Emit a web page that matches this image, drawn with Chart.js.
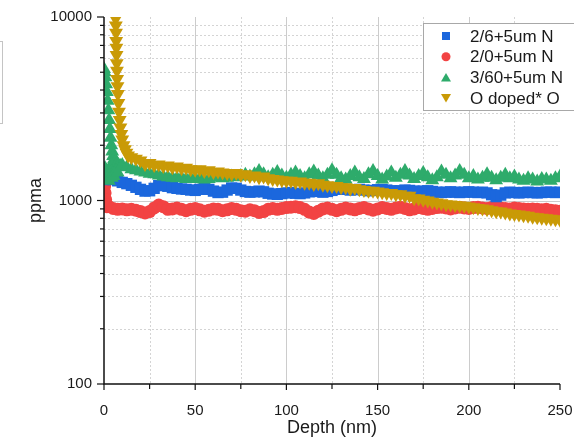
<!DOCTYPE html>
<html>
<head>
<meta charset="utf-8">
<title>Depth profile</title>
<script src="https://cdn.jsdelivr.net/npm/chart.js@4.4.0/dist/chart.umd.min.js"></script>
<style>
html, body { margin: 0; padding: 0; background: #fff; }
canvas { display: block; }
</style>
</head>
<body>
<canvas id="profile" width="574" height="443"></canvas>
<script>
// shared depth grid (nm)
const depth = [
	0, 2.5, 5, 7.5, 10, 12.5, 15, 17.5, 20, 22.5,
	25, 27.5, 30, 32.5, 35, 37.5, 40, 42.5, 45, 47.5,
	50, 52.5, 55, 57.5, 60, 62.5, 65, 67.5, 70, 72.5,
	75, 77.5, 80, 82.5, 85, 87.5, 90, 92.5, 95, 97.5,
	100, 102.5, 105, 107.5, 110, 112.5, 115, 117.5, 120, 122.5,
	125, 127.5, 130, 132.5, 135, 137.5, 140, 142.5, 145, 147.5,
	150, 152.5, 155, 157.5, 160, 162.5, 165, 167.5, 170, 172.5,
	175, 177.5, 180, 182.5, 185, 187.5, 190, 192.5, 195, 197.5,
	200, 202.5, 205, 207.5, 210, 212.5, 215, 217.5, 220, 222.5,
	225, 227.5, 230, 232.5, 235, 237.5, 240, 242.5, 245, 247.5,
	250
];

const seriesNames = ['2/6+5um N', '2/0+5um N', '3/60+5um N', 'O doped* O'];
const seriesColors = ['#1b67dd', '#f24343', '#2eab6b', '#c99a06'];

// 2/6+5um N
const blueValues = [
	1300, 1310, 1300, 1280, 1255, 1235, 1210, 1180, 1150, 1125,
	1130, 1165, 1205, 1220, 1195, 1175, 1165, 1155, 1150, 1140,
	1135, 1150, 1165, 1150, 1125, 1105, 1110, 1140, 1170, 1165,
	1140, 1120, 1110, 1115, 1125, 1115, 1095, 1085, 1080, 1090,
	1100, 1105, 1095, 1090, 1100, 1115, 1125, 1120, 1110, 1120,
	1135, 1150, 1160, 1150, 1140, 1145, 1150, 1140, 1130, 1135,
	1145, 1150, 1140, 1130, 1125, 1130, 1140, 1135, 1125, 1120,
	1125, 1130, 1120, 1110, 1105, 1110, 1115, 1110, 1105, 1110,
	1115, 1110, 1105, 1110, 1100, 1075, 1050, 1070, 1100, 1110,
	1105, 1100, 1105, 1110, 1105, 1100, 1105, 1110, 1110, 1105,
	1110
];
const blueHeadDepth = [];
const blueHeadValues = [];

// 2/0+5um N
const redValues = [
	1180, 930, 905, 895, 900, 890, 895, 885, 870, 855,
	870, 910, 945, 925, 895, 900, 910, 895, 880, 895,
	905, 890, 875, 885, 900, 895, 880, 890, 905, 895,
	880, 875, 890, 880, 860, 870, 895, 905, 895, 905,
	915, 920, 925, 915, 895, 865, 850, 875, 900, 910,
	895, 880, 895, 910, 900, 890, 905, 915, 900, 885,
	900, 915, 905, 895, 910, 920, 905, 890, 900, 915,
	905, 895, 905, 915, 920, 910, 900, 910, 920, 910,
	905, 915, 920, 910, 905, 915, 920, 910, 905, 900,
	910, 905, 900, 895, 900, 895, 890, 895, 885, 880,
	875
];
const redHeadDepth = [0, 0.3, 0.6, 0.9, 1.2, 1.6];
const redHeadValues = [1260, 1200, 1100, 1010, 950, 925];

// 3/60+5um N
const greenValues = [
	null, null, null, null, 1560, 1520, 1480, 1460, 1440, 1420,
	1400, 1390, 1370, 1350, 1340, 1330, 1320, 1330, 1310, 1320,
	1310, 1320, 1300, 1310, 1330, 1340, 1320, 1330, 1350, 1340,
	1360, 1380, 1350, 1390, 1450, 1390, 1340, 1380, 1430, 1370,
	1330, 1380, 1420, 1360, 1320, 1390, 1440, 1370, 1320, 1380,
	1460, 1380, 1320, 1300, 1360, 1420, 1340, 1310, 1390, 1450,
	1360, 1300, 1350, 1420, 1330, 1380, 1450, 1370, 1310, 1360,
	1410, 1340, 1290, 1340, 1440, 1380, 1320, 1370, 1450, 1380,
	1320, 1360, 1300, 1330, 1390, 1330, 1290, 1330, 1380, 1320,
	1350, 1300, 1280, 1320, 1300, 1270, 1310, 1300, 1280, 1320,
	1350
];
const greenHeadDepth = [
	0, 0.4, 0.8, 1.2, 1.6, 2.0, 2.4, 2.8, 3.2, 3.6, 4.0, 4.5, 5.0, 5.5, 6.0, 7.0, 8.0, 9.0,
	0.2, 0.6, 1.0, 1.4, 1.8, 2.2, 2.6, 3.0, 3.4, 3.8, 4.3, 4.8, 5.3, 6.5, 7.5
];
const greenHeadValues = [
	5200, 5000, 4700, 4300, 3900, 3500, 3100, 2750, 2450, 2200, 2000, 1850, 1750, 1680, 1620, 1580, 1560, 1540,
	1350, 1500, 1300, 1450, 1320, 1400, 1280, 1500, 1350, 1420, 1330, 1400, 1360, 1450, 1420
];

// O doped* O
const goldValues = [
	null, null, null, null, null, null, 1720, 1690, 1650, 1580,
	1600, 1560, 1570, 1540, 1550, 1520, 1530, 1500, 1510, 1480,
	1470, 1480, 1450, 1460, 1430, 1440, 1420, 1410, 1400, 1410,
	1380, 1390, 1360, 1370, 1340, 1350, 1320, 1310, 1300, 1290,
	1280, 1280, 1260, 1270, 1250, 1250, 1230, 1240, 1220, 1210,
	1200, 1200, 1180, 1180, 1160, 1170, 1150, 1140, 1130, 1130,
	1120, 1110, 1100, 1100, 1080, 1080, 1060, 1060, 1030, 1025,
	1010, 1000, 985, 975, 965, 955, 950, 945, 940, 935,
	928, 920, 910, 905, 895, 885, 875, 870, 860, 850,
	845, 840, 830, 825, 815, 810, 805, 800, 795, 790,
	785
];
const goldHeadDepth = [6.4, 6.5, 6.6, 6.7, 6.8, 6.9, 7.0, 7.1, 7.2, 7.4, 7.6, 7.9, 8.2, 8.6, 9.0, 9.5, 10.0, 10.7, 11.5, 12.3, 13.2];
const goldHeadValues = [9800, 9000, 8200, 7400, 6800, 6200, 5600, 5100, 4600, 4200, 3800, 3400, 3050, 2750, 2500, 2300, 2150, 2000, 1900, 1820, 1760];

// axis ticks
const xTicks = [0, 50, 100, 150, 200, 250];
const xMinorTicks = [25, 75, 125, 175, 225];
const yTicks = [100, 1000, 10000];
const yMinorTicks = [200, 300, 400, 500, 600, 700, 800, 900, 2000, 3000, 4000, 5000, 6000, 7000, 8000, 9000];

const FONT = '"Liberation Sans", Arial, sans-serif';

const toPoints = (headX, headY, values) => {
	let pts = headX.map((x, i) => ({ x: x, y: headY[i] }));
	values.forEach((v, i) => {
		if (v !== null) pts.push({ x: depth[i], y: v });
	});
	return pts;
};

// grid lines under the data, axes + ticks over it
const framePlugin = {
	id: 'frame',
	beforeDatasetsDraw(chart) {
		const { ctx, chartArea: a, scales: { x, y } } = chart;
		ctx.save();
		ctx.lineWidth = 1;
		ctx.strokeStyle = '#d4d4d4';
		ctx.setLineDash([2, 2]);
		xMinorTicks.forEach((v) => {
			let px = Math.round(x.getPixelForValue(v)) + 0.5;
			ctx.beginPath(); ctx.moveTo(px, a.top); ctx.lineTo(px, a.bottom); ctx.stroke();
		});
		yMinorTicks.forEach((v) => {
			let py = Math.round(y.getPixelForValue(v)) + 0.5;
			ctx.beginPath(); ctx.moveTo(a.left, py); ctx.lineTo(a.right, py); ctx.stroke();
		});
		ctx.setLineDash([]);
		ctx.strokeStyle = '#cccccc';
		xTicks.slice(1, -1).forEach((v) => {
			let px = Math.round(x.getPixelForValue(v)) + 0.5;
			ctx.beginPath(); ctx.moveTo(px, a.top); ctx.lineTo(px, a.bottom); ctx.stroke();
		});
		yTicks.slice(1, -1).forEach((v) => {
			let py = Math.round(y.getPixelForValue(v)) + 0.5;
			ctx.beginPath(); ctx.moveTo(a.left, py); ctx.lineTo(a.right, py); ctx.stroke();
		});
		ctx.restore();
	},
	afterDatasetsDraw(chart) {
		const { ctx, chartArea: a, scales: { x, y } } = chart;
		ctx.save();
		ctx.strokeStyle = '#111';
		ctx.lineWidth = 1.5;
		ctx.beginPath();
		ctx.moveTo(a.left, a.top);
		ctx.lineTo(a.left, a.bottom);
		ctx.lineTo(a.right, a.bottom);
		ctx.stroke();
		ctx.lineWidth = 1.2;
		yTicks.forEach((v) => {
			let py = y.getPixelForValue(v);
			ctx.beginPath(); ctx.moveTo(a.left - 7, py); ctx.lineTo(a.left, py); ctx.stroke();
		});
		yMinorTicks.forEach((v) => {
			let py = y.getPixelForValue(v);
			ctx.beginPath(); ctx.moveTo(a.left - 4, py); ctx.lineTo(a.left, py); ctx.stroke();
		});
		xTicks.forEach((v) => {
			let px = x.getPixelForValue(v);
			ctx.beginPath(); ctx.moveTo(px, a.bottom); ctx.lineTo(px, a.bottom + 6); ctx.stroke();
		});
		xMinorTicks.forEach((v) => {
			let px = x.getPixelForValue(v);
			ctx.beginPath(); ctx.moveTo(px, a.bottom); ctx.lineTo(px, a.bottom + 5); ctx.stroke();
		});
		ctx.restore();
	},
	afterDraw(chart) {
		const ctx = chart.ctx;
		ctx.save();
		// empty panel cut off at the left edge
		ctx.strokeStyle = '#c4c4c4';
		ctx.lineWidth = 1;
		ctx.strokeRect(-20.5, 41.5, 23, 82);

		// legend box
		let bx = 423.5, by = 23.5;
		ctx.fillStyle = '#fff';
		ctx.fillRect(bx, by, 200, 87);
		ctx.strokeStyle = '#a8a8a8';
		ctx.strokeRect(bx, by, 200, 87);
		ctx.font = '17px ' + FONT;
		ctx.textBaseline = 'middle';
		chart.data.datasets.forEach((ds, i) => {
			let cy = 36 + i * 20.7;
			let cx = 446;
			ctx.fillStyle = ds.backgroundColor;
			ctx.beginPath();
			if (ds.pointStyle === 'rect') {
				ctx.rect(cx - 4, cy - 4, 8, 8);
			} else if (ds.pointStyle === 'circle') {
				ctx.arc(cx, cy, 4.5, 0, Math.PI * 2);
			} else if (ds.pointRotation === 180) {
				ctx.moveTo(cx - 5, cy - 4); ctx.lineTo(cx + 5, cy - 4); ctx.lineTo(cx, cy + 4.5);
			} else {
				ctx.moveTo(cx - 5, cy + 4); ctx.lineTo(cx + 5, cy + 4); ctx.lineTo(cx, cy - 4.5);
			}
			ctx.fill();
			ctx.fillStyle = '#1a1a1a';
			ctx.fillText(ds.label, 470, cy + 1);
		});
		ctx.restore();
	}
};

const makeSet = (i, pts, style, radius, rotation, order) => ({
	label: seriesNames[i],
	data: pts,
	pointStyle: style,
	pointRadius: radius,
	pointHoverRadius: radius,
	pointRotation: rotation,
	pointBorderWidth: 0,
	backgroundColor: seriesColors[i],
	borderColor: seriesColors[i],
	showLine: false,
	order: order
});

const LoadProfile = () => {
	let ctx = document.getElementById('profile').getContext('2d');

	let myChart = new Chart(ctx, {
		type: 'scatter',
		data: {
			datasets: [
				makeSet(0, toPoints(blueHeadDepth, blueHeadValues, blueValues), 'rect', 8, 0, 3),
				makeSet(1, toPoints(redHeadDepth, redHeadValues, redValues), 'circle', 6.5, 0, 4),
				makeSet(2, toPoints(greenHeadDepth, greenHeadValues, greenValues), 'triangle', 8, 0, 2),
				makeSet(3, toPoints(goldHeadDepth, goldHeadValues, goldValues), 'triangle', 8, 180, 1)
			]
		},
		options: {
			responsive: false,
			animation: false,
			devicePixelRatio: 1,
			layout: {
				padding: { left: 0, right: 14, top: 17, bottom: 0 }
			},
			scales: {
				x: {
					type: 'linear',
					min: 0,
					max: 250,
					afterBuildTicks: (axis) => {
						axis.ticks = xTicks.map((v) => ({ value: v }));
					},
					afterFit: (scale) => {
						scale.height = 59;
						scale.paddingLeft = 0;
						scale.paddingRight = 0;
					},
					grid: { display: false, drawTicks: false },
					border: { display: false },
					ticks: {
						padding: 18,
						color: '#1a1a1a',
						font: { family: FONT, size: 15 },
						maxRotation: 0
					},
					title: {
						display: true,
						text: 'Depth (nm)',
						color: '#1a1a1a',
						font: { family: FONT, size: 18 },
						padding: { top: 0, bottom: 4 }
					}
				},
				y: {
					type: 'logarithmic',
					min: 100,
					max: 10000,
					afterBuildTicks: (axis) => {
						axis.ticks = yTicks.map((v) => ({ value: v }));
					},
					afterFit: (scale) => {
						scale.width = 104;
						scale.paddingTop = 0;
						scale.paddingBottom = 0;
					},
					grid: { display: false, drawTicks: false },
					border: { display: false },
					ticks: {
						padding: 12,
						color: '#1a1a1a',
						font: { family: FONT, size: 15 },
						callback: (v) => String(v)
					},
					title: {
						display: true,
						text: 'ppma',
						color: '#1a1a1a',
						font: { family: FONT, size: 18 },
						padding: { top: 25, bottom: 0 }
					}
				}
			},
			plugins: {
				legend: { display: false },
				tooltip: { enabled: false }
			}
		},
		plugins: [framePlugin]
	});
};

LoadProfile();
</script>
</body>
</html>
